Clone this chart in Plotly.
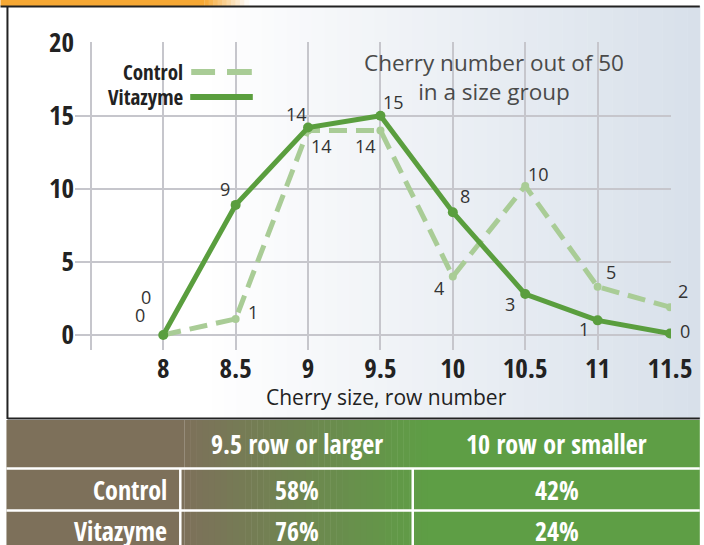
import plotly.graph_objects as go

# ---------------- data ----------------
row_sizes = [8, 8.5, 9, 9.5, 10, 10.5, 11, 11.5]
control_vals = [0, 1.1, 14, 14, 4.0, 10.2, 3.3, 1.9]
vitazyme_vals = [0, 8.9, 14.2, 15, 8.4, 2.8, 1.0, 0.1]
control_labels = ["0", "1", "14", "14", "4", "10", "5", "2"]
vitazyme_labels = ["0", "9", "14", "15", "8", "3", "1", "0"]
x_tickvals = [7.5, 8, 8.5, 9, 9.5, 10, 10.5, 11, 11.5]
x_ticktext = ["", "8", "8.5", "9", "9.5", "10", "10.5", "11", "11.5"]
y_tickvals = [0, 5, 10, 15, 20]
table_cols = ["9.5 row or larger", "10 row or smaller"]
table_rows = ["Control", "Vitazyme"]
table_vals = [["58%", "42%"], ["76%", "24%"]]

# ---------------- styles ----------------
W, H = 704, 545
L, R, T, B = 75, 29, 42, 195
PW, PH = W - L - R, H - T - B
COND = "'Open Sans Condensed', 'Roboto Condensed', sans-serif"
REG = "'Open Sans', 'Noto Sans', sans-serif"
C_VIT = "#5a9e3e"
C_CTL = "#a9cc96"


def px(x):
    return (x - L) / PW


def py(y):
    return (T + PH - y) / PH


def mix(c1, c2, t):
    a = [int(c1[i:i + 2], 16) for i in (1, 3, 5)]
    b = [int(c2[i:i + 2], 16) for i in (1, 3, 5)]
    return "rgb(%d,%d,%d)" % tuple(round(a[k] + (b[k] - a[k]) * t) for k in range(3))


shapes = []
# chart background gradient
n = 40
x0g, x1g = 200, 704
shapes.append(dict(type="rect", xref="paper", yref="paper", x0=px(7), x1=px(x0g),
                   y0=py(419), y1=py(6), fillcolor="white", line_width=0, layer="below"))
for i in range(n):
    a = x0g + (x1g - x0g) * i / n
    b = x0g + (x1g - x0g) * (i + 1) / n + 0.5
    shapes.append(dict(type="rect", xref="paper", yref="paper", x0=px(a), x1=px(b),
                       y0=py(419), y1=py(6), fillcolor=mix("#ffffff", "#d8e0ea", (i + 0.5) / n),
                       line_width=0, layer="below"))
# orange top strip
shapes.append(dict(type="rect", xref="paper", yref="paper", x0=px(0), x1=px(205),
                   y0=py(6), y1=py(0), fillcolor="#f6a834", line_width=0, layer="below"))
for i in range(10):
    a = 205 + 4.5 * i
    shapes.append(dict(type="rect", xref="paper", yref="paper", x0=px(a), x1=px(a + 5),
                       y0=py(6), y1=py(0), fillcolor=mix("#f6a834", "#ffffff", (i + 0.5) / 10),
                       line_width=0, layer="below"))
# box borders
shapes.append(dict(type="line", xref="paper", yref="paper", x0=px(0), x1=px(704),
                   y0=py(6.5), y1=py(6.5), line=dict(color="#222222", width=2)))
shapes.append(dict(type="line", xref="paper", yref="paper", x0=px(7), x1=px(7),
                   y0=py(6), y1=py(419), line=dict(color="#222222", width=2)))
shapes.append(dict(type="line", xref="paper", yref="paper", x0=px(7), x1=px(704),
                   y0=py(418.5), y1=py(418.5), line=dict(color="#222222", width=2)))
# table gradient
tx0, tx1 = 185, 430
shapes.append(dict(type="rect", xref="paper", yref="paper", x0=px(6), x1=px(tx0),
                   y0=py(545), y1=py(420), fillcolor="#7d705a", line_width=0))
for i in range(n):
    a = tx0 + (tx1 - tx0) * i / n
    b = tx0 + (tx1 - tx0) * (i + 1) / n + 0.5
    shapes.append(dict(type="rect", xref="paper", yref="paper", x0=px(a), x1=px(b),
                       y0=py(545), y1=py(420), fillcolor=mix("#7d705a", "#5e9e45", (i + 0.5) / n),
                       line_width=0))
shapes.append(dict(type="rect", xref="paper", yref="paper", x0=px(tx1), x1=px(704),
                   y0=py(545), y1=py(420), fillcolor="#5e9e45", line_width=0))
# table separators
for yy in (468.5, 510.5):
    shapes.append(dict(type="line", xref="paper", yref="paper", x0=px(6), x1=px(704),
                       y0=py(yy), y1=py(yy), line=dict(color="white", width=2.5)))
for xx in (181, 415):
    shapes.append(dict(type="line", xref="paper", yref="paper", x0=px(xx), x1=px(xx),
                       y0=py(469), y1=py(545), line=dict(color="white", width=2.5)))
# legend lines
shapes.append(dict(type="line", xref="paper", yref="paper", x0=px(192), x1=px(216),
                   y0=py(72), y1=py(72), line=dict(color=C_CTL, width=6)))
shapes.append(dict(type="line", xref="paper", yref="paper", x0=px(228), x1=px(253),
                   y0=py(72), y1=py(72), line=dict(color=C_CTL, width=6)))
shapes.append(dict(type="line", xref="paper", yref="paper", x0=px(191), x1=px(254),
                   y0=py(97), y1=py(97), line=dict(color=C_VIT, width=6)))

annotations = []
# legend texts
for txt, yy in (("Control", 72), ("Vitazyme", 97)):
    annotations.append(dict(text=txt, xref="paper", yref="paper", x=px(186), y=py(yy),
                            xanchor="right", yanchor="middle", showarrow=False,
                            font=dict(family=COND, size=21, color="#222222", weight="bold")))
# note
annotations.append(dict(text="Cherry number out of 50<br>in a size group", xref="paper", yref="paper",
                        x=px(497), y=py(77), xanchor="center", yanchor="middle", showarrow=False,
                        font=dict(family=REG, size=22.5, color="#4a4a4a")))
# axis title
annotations.append(dict(text="Cherry size, row number", xref="paper", yref="paper",
                        x=px(389), y=py(397), xanchor="center", yanchor="middle", showarrow=False,
                        font=dict(family=REG, size=21, color="#222222")))
# data labels
ctl_off = [(-23, 20), (17, 7), (13, -16), (-15, -16), (-14, -11), (13, 12), (13, 15), (13, 16)]
vit_off = [(-17, 38), (-11, 16), (-12, 13), (13, 14), (12, 16), (-15, -10), (-14, -9), (15, 2)]
for xs, vals, labs, offs in ((row_sizes, control_vals, control_labels, ctl_off),
                             (row_sizes, vitazyme_vals, vitazyme_labels, vit_off)):
    for xv, yv, lab, (dx, dy) in zip(xs, vals, labs, offs):
        annotations.append(dict(text=lab, x=xv, y=yv, xref="x", yref="y", showarrow=False,
                                xshift=dx, yshift=dy, xanchor="center", yanchor="middle",
                                font=dict(family=REG, size=18, color="#333333")))
# table texts
TF = dict(family=COND, size=26, color="white", weight="bold")
col_centers = [298, 560]
for c, txt in zip(col_centers, table_cols):
    annotations.append(dict(text=txt, xref="paper", yref="paper", x=px(c), y=py(444),
                            xanchor="center", yanchor="middle", showarrow=False, font=TF))
for r, (rname, rv) in enumerate(zip(table_rows, table_vals)):
    yy = [490, 531][r]
    annotations.append(dict(text=rname, xref="paper", yref="paper", x=px(170), y=py(yy),
                            xanchor="right", yanchor="middle", showarrow=False, font=TF))
    for c, v in zip(col_centers, rv):
        annotations.append(dict(text=v, xref="paper", yref="paper", x=px(c), y=py(yy),
                                xanchor="center", yanchor="middle", showarrow=False, font=TF))

fig = go.Figure()
fig.add_trace(go.Scatter(x=row_sizes, y=control_vals, mode="lines+markers", name="Control",
                         line=dict(color=C_CTL, width=5, dash="18px,9px"),
                         marker=dict(color=C_CTL, size=8)))
fig.add_trace(go.Scatter(x=row_sizes, y=vitazyme_vals, mode="lines+markers", name="Vitazyme",
                         line=dict(color=C_VIT, width=5),
                         marker=dict(color=C_VIT, size=10)))

fig.update_layout(
    width=W, height=H, margin=dict(l=L, r=R, t=T, b=B, pad=0),
    paper_bgcolor="white", plot_bgcolor="rgba(0,0,0,0)", showlegend=False,
    shapes=shapes, annotations=annotations,
    xaxis=dict(range=[7.5 - 16 / 146, 11.5 + 1 / 146], tickvals=x_tickvals, ticktext=x_ticktext,
               showgrid=True, gridcolor="#c6c6cc", gridwidth=1.5, zeroline=False, showline=False,
               ticks="", tickfont=dict(family=COND, size=27, color="#222222", weight="bold")),
    yaxis=dict(range=[-1.03, 20.05], tickvals=y_tickvals,
               showgrid=True, gridcolor="#c6c6cc", gridwidth=1.5, zeroline=False, showline=False,
               ticks="", tickfont=dict(family=COND, size=27, color="#222222", weight="bold")),
)

fig.write_html("out.html", config={"displayModeBar": False},
               post_script="document.body.style.margin='0';document.body.style.overflow='hidden';")
